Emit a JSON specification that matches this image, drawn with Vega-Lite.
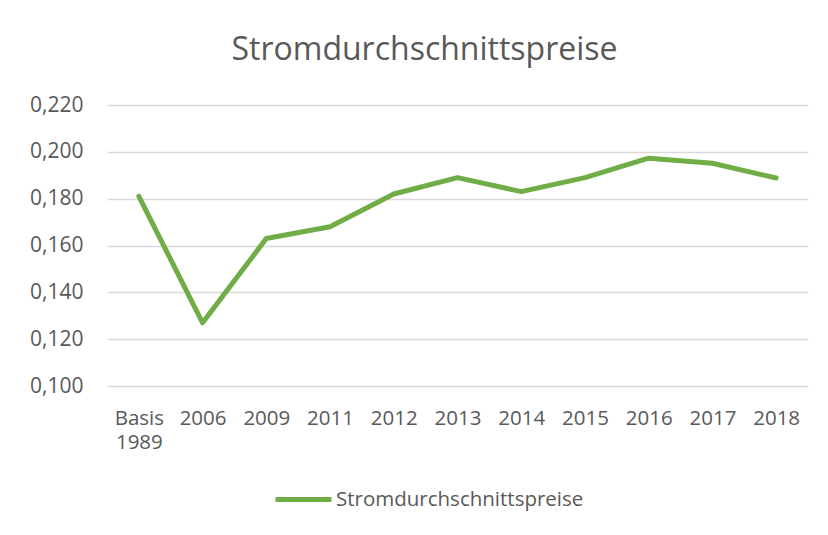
{
  "$schema": "https://vega.github.io/schema/vega-lite/v6.json",
  "width": 701,
  "height": 281,
  "autosize": {"type": "none"},
  "padding": {"left": 107, "top": 105, "right": 20, "bottom": 149},
  "background": "white",
  "config": {
    "locale": {
      "number": {"decimal": ",", "thousands": ".", "grouping": [3], "currency": ["", " €"]}
    },
    "view": {"stroke": null},
    "font": "Open Sans"
  },
  "title": {
    "text": "Stromdurchschnittspreise",
    "font": "Open Sans",
    "fontSize": 32,
    "fontWeight": "normal",
    "color": "#595959",
    "anchor": "middle",
    "frame": "group",
    "offset": 27,
    "dx": -33
  },
  "data": {
    "values": [
      {"jahr": "Basis 1989", "preis": 0.181, "series": "Stromdurchschnittspreise"},
      {"jahr": "2006", "preis": 0.127, "series": "Stromdurchschnittspreise"},
      {"jahr": "2009", "preis": 0.163, "series": "Stromdurchschnittspreise"},
      {"jahr": "2011", "preis": 0.168, "series": "Stromdurchschnittspreise"},
      {"jahr": "2012", "preis": 0.182, "series": "Stromdurchschnittspreise"},
      {"jahr": "2013", "preis": 0.189, "series": "Stromdurchschnittspreise"},
      {"jahr": "2014", "preis": 0.183, "series": "Stromdurchschnittspreise"},
      {"jahr": "2015", "preis": 0.189, "series": "Stromdurchschnittspreise"},
      {"jahr": "2016", "preis": 0.1973, "series": "Stromdurchschnittspreise"},
      {"jahr": "2017", "preis": 0.1951, "series": "Stromdurchschnittspreise"},
      {"jahr": "2018", "preis": 0.1888, "series": "Stromdurchschnittspreise"}
    ]
  },
  "mark": {"type": "line", "strokeWidth": 5, "strokeCap": "round", "strokeJoin": "round"},
  "encoding": {
    "x": {
      "field": "jahr",
      "type": "ordinal",
      "sort": null,
      "scale": {"type": "point", "padding": 0.5},
      "axis": {
        "title": null,
        "labelAngle": 0,
        "labelExpr": "split(datum.label, ' ')",
        "labelFont": "Open Sans",
        "labelFontSize": 20.5,
        "labelColor": "#595959",
        "labelPadding": 22,
        "labelLineHeight": 24,
        "labelBaseline": "top",
        "labelAlign": "center",
        "ticks": false,
        "domain": false,
        "grid": false
      }
    },
    "y": {
      "field": "preis",
      "type": "quantitative",
      "scale": {"domain": [0.1, 0.22], "nice": false, "zero": false},
      "axis": {
        "title": null,
        "values": [0.1, 0.12, 0.14, 0.16, 0.18, 0.2, 0.22],
        "format": ".3f",
        "labelFont": "Open Sans",
        "labelFontSize": 21,
        "labelColor": "#595959",
        "labelPadding": 24,
        "ticks": false,
        "domain": false,
        "grid": true,
        "gridColor": "#d9d9d9",
        "gridWidth": 1.5
      }
    },
    "color": {
      "field": "series",
      "type": "nominal",
      "scale": {"range": ["#70AD47"]},
      "legend": {
        "title": null,
        "orient": "none",
        "legendX": 166,
        "legendY": 364,
        "symbolType": "stroke",
        "symbolSize": 3136,
        "symbolStrokeWidth": 5,
        "labelFont": "Open Sans",
        "labelFontSize": 20.5,
        "labelColor": "#595959",
        "labelOffset": 2,
        "labelLimit": 0
      }
    }
  }
}
